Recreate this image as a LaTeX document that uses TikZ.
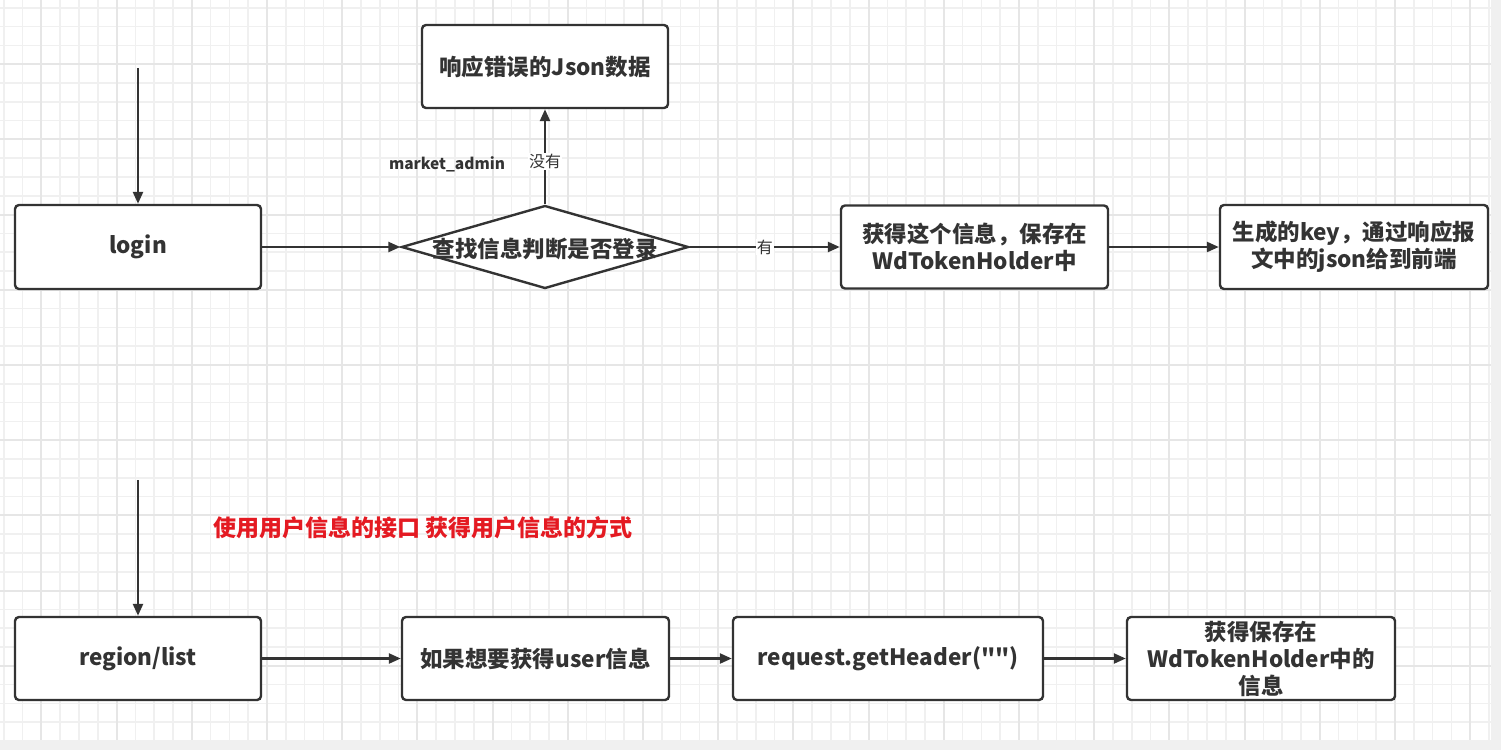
\documentclass[tikz,border=0pt]{standalone}
\usepackage{fontspec}
\newfontfamily\cjk{Noto Sans CJK SC}
\usetikzlibrary{arrows.meta,shapes.geometric}
\definecolor{ink}{HTML}{333333}
\definecolor{gridln}{HTML}{F0F0F0}
\definecolor{gridmaj}{HTML}{E6E6E6}
\definecolor{pagebg}{HTML}{F0F0F0}
\definecolor{alert}{RGB}{228,26,34}

\begin{document}
\begin{tikzpicture}[x=1pt,y=-1pt,
  box/.style={draw=ink,line width=2.4pt,rounded corners=4pt,fill=white,align=center,
    text=ink,inner sep=0pt,font=\cjk\bfseries\fontsize{22.5}{27}\selectfont},
  decision/.style={diamond,draw=ink,line width=2.4pt,fill=white,inner sep=0pt,
    minimum width=287pt,minimum height=83pt},
  flow/.style={draw=ink,line width=2.4pt,-{Triangle[length=12pt,width=10pt]}},
  tag/.style={fill=white,text=ink,inner sep=1pt,font=\cjk\fontsize{16}{18}\selectfont}]
  \useasboundingbox (0,0) rectangle (1501,750);
  \fill[pagebg] (0,0) rectangle (1501,750);
  \fill[white] (0,0) rectangle (1491,740);
  % background grid
  \foreach \x in {3.8,22.6,...,1491} \draw[gridln,line width=1.5pt] (\x,0) -- (\x,740);
  \foreach \y in {7.8,26.6,...,740} \draw[gridln,line width=1.5pt] (0,\y) -- (1491,\y);
  \foreach \x in {41.4,116.6,...,1491} \draw[gridmaj,line width=2pt] (\x,0) -- (\x,740);
  \foreach \y in {64.2,139.4,...,740} \draw[gridmaj,line width=2pt] (0,\y) -- (1491,\y);

  % top row: login
  \coordinate (start1) at (138,68);
  \node[box,minimum width=246pt,minimum height=84pt] (login) at (138,247) {login};
  \node[decision] (judge) at (545,247) {};
  \node[text=ink,font=\cjk\bfseries\fontsize{22.5}{27}\selectfont] (judgetxt) at (545,249) {查找信息判断是否登录};
  \node[box,minimum width=246pt,minimum height=83pt] (err) at (545,66.5) {响应错误的Json数据};
  \node[box,minimum width=267pt,minimum height=83pt] (save) at (974.5,247) {获得这个信息，保存在\\WdTokenHolder中};
  \node[box,minimum width=268pt,minimum height=84pt] (key) at (1354,247) {生成的key，通过响应报\\文中的json给到前端};
  \node[text=ink,font=\cjk\bfseries\fontsize{15.5}{18}\selectfont] (role) at (447,164) {market\_admin};
  \draw[flow] (start1) -- (login);
  \draw[flow] (login) -- (judge);
  \draw[flow] (judge) -- node[tag,pos=0.45] {没有} (err);
  \draw[flow] (judge) -- node[tag] {有} (save);
  \draw[flow] (save) -- (key);

  % bottom row: region/list
  \node[text=alert,font=\cjk\bfseries\fontsize{23}{26}\selectfont] (note) at (423,528) {使用用户信息的接口 获得用户信息的方式};
  \coordinate (start2) at (138,480);
  \node[box,minimum width=246pt,minimum height=83pt] (region) at (138,658.5) {region/list};
  \node[box,minimum width=267pt,minimum height=83pt] (user) at (535.5,658.5) {如果想要获得user信息};
  \node[box,minimum width=310pt,minimum height=83pt] (header) at (888,658.5) {request.getHeader("")};
  \node[box,minimum width=268pt,minimum height=83pt] (holder) at (1261,658.5) {获得保存在\\WdTokenHolder中的\\信息};
  \draw[flow] (start2) -- (region);
  \draw[flow] (region) -- (user);
  \draw[flow] (user) -- (header);
  \draw[flow] (header) -- (holder);
\end{tikzpicture}
\end{document}
